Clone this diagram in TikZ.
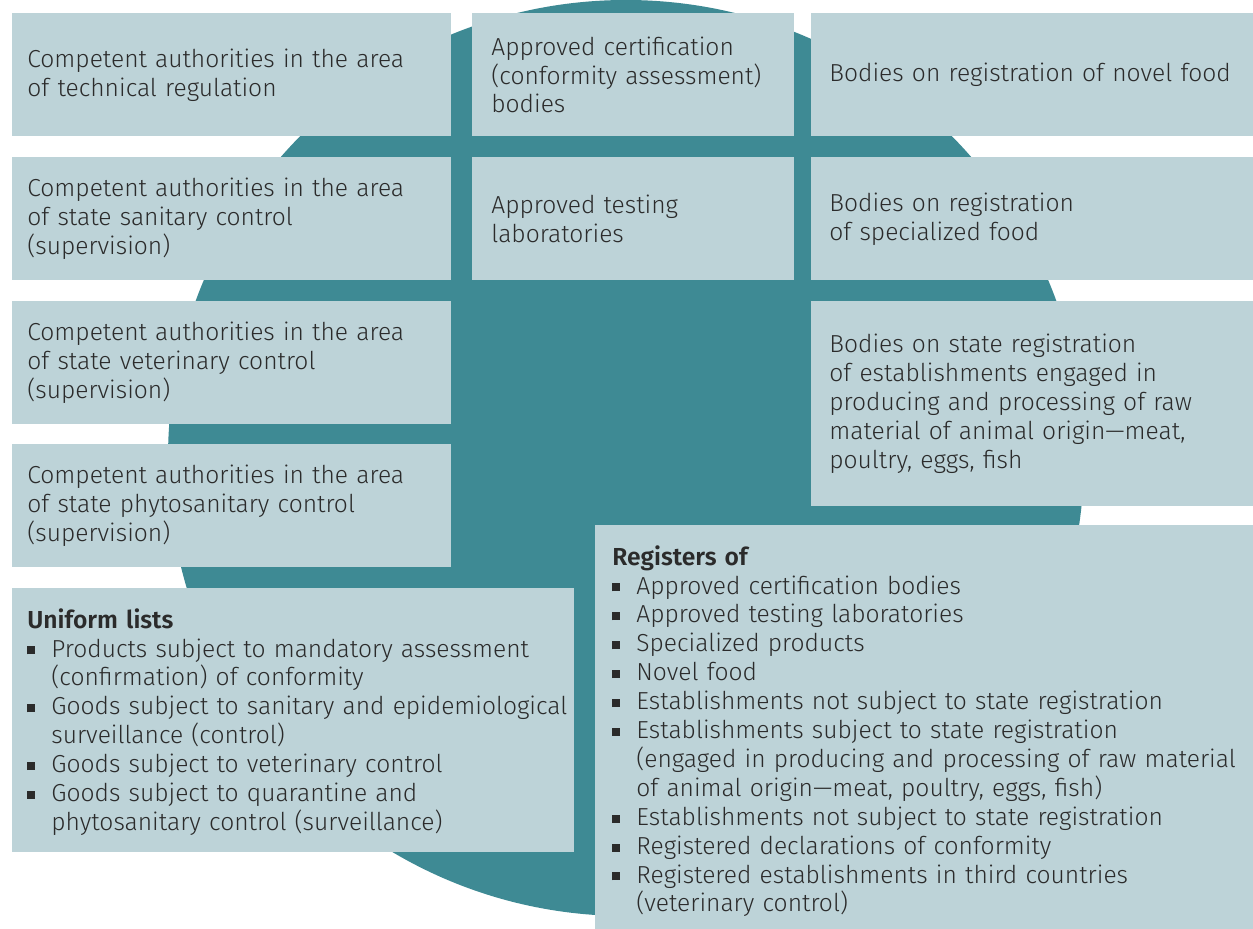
\documentclass[tikz,border=0pt]{standalone}
\usepackage{fontspec}
\setmainfont{Fira Sans}[UprightFont=* Light,BoldFont=* SemiBold]
\usepackage{xcolor}

\definecolor{discteal}{HTML}{3E8A94}
\definecolor{panelblue}{HTML}{BDD3D8}
\definecolor{inkgray}{HTML}{2B2B2B}

\setlength{\parindent}{0pt}
\newcommand{\panelfont}{\fontsize{12.3pt}{14.45pt}\selectfont}
\newcommand{\sqbul}{\makebox[12pt][l]{\rule[1.3pt]{4pt}{4pt}}}
\newcommand{\litem}[1]{\hangindent=12pt\hangafter=1\noindent\sqbul#1\par}

\begin{document}
\begin{tikzpicture}[x=0.5pt, y=-0.5pt,
                    panel/.style={fill=panelblue, anchor=north west, inner ysep=0pt,
                                  align=left, font=\panelfont, text=inkgray},
                    listtext/.style={anchor=north west, inner ysep=10pt,
                                     align=left, font=\panelfont, text=inkgray}]
                    \useasboundingbox[fill=white] (0,0) rectangle (1253,929);
                    % the disc behind the panels
                    \fill[discteal] (626,458) circle (229pt);
                    % first column
                    \node[panel, inner xsep=7.5pt, text width=204.5pt, minimum height=61.5pt] (techreg) at (12,13)
                        {Competent authorities in the area\\of technical regulation};
                    \node[panel, inner xsep=7.5pt, text width=204.5pt, minimum height=61.5pt] (sanitary) at (12,157)
                        {Competent authorities in the area\\of state sanitary control\\(supervision)};
                    \node[panel, inner xsep=7.5pt, text width=204.5pt, minimum height=61.5pt] (veterinary) at (12,301)
                        {Competent authorities in the area\\of state veterinary control\\(supervision)};
                    \node[panel, inner xsep=7.5pt, text width=204.5pt, minimum height=61.5pt] (phyto) at (12,444)
                        {Competent authorities in the area\\of state phytosanitary control\\(supervision)};
                    % middle column
                    \node[panel, inner xsep=9.5pt, text width=142pt, minimum height=61.5pt] (certbodies) at (472,13)
                        {Approved certification\\(conformity assessment)\\bodies};
                    \node[panel, inner xsep=9.5pt, text width=142pt, minimum height=61.5pt] (testlabs) at (472,157)
                        {Approved testing\\laboratories};
                    % right column
                    \node[panel, inner xsep=9pt, text width=203pt, minimum height=61.5pt] (novelfood) at (811,13)
                        {Bodies on registration of novel food};
                    \node[panel, inner xsep=9pt, text width=203pt, minimum height=61.5pt] (specfood) at (811,157)
                        {Bodies on registration\\of specialized food};
                    \node[panel, inner xsep=9pt, text width=203pt, minimum height=102.5pt] (stateregbodies) at (811,301)
                        {Bodies on state registration\\of establishments engaged in\\producing and processing of raw\\material of animal origin---meat,\\poultry, eggs, fish};
                    % lists
                    \fill[panelblue] (12,588) rectangle (574,852);
                    \node[listtext, inner xsep=7.5pt, text width=276pt] (uniform) at (12,588)
                        {\textbf{Uniform lists}\par
                         \litem{Products subject to mandatory assessment\newline(confirmation) of conformity}
                         \litem{Goods subject to sanitary and epidemiological\newline surveillance (control)}
                         \litem{Goods subject to veterinary control}
                         \litem{Goods subject to quarantine and\newline phytosanitary control (surveillance)}};
                    \fill[panelblue] (595,525) rectangle (1253,929);
                    \node[listtext, inner xsep=8.5pt, text width=322pt] (registers) at (595,525)
                        {\textbf{Registers of}\par
                         \litem{Approved certification bodies}
                         \litem{Approved testing laboratories}
                         \litem{Specialized products}
                         \litem{Novel food}
                         \litem{Establishments not subject to state registration}
                         \litem{Establishments subject to state registration\newline(engaged in producing and processing of raw material\newline of animal origin---meat, poultry, eggs, fish)}
                         \litem{Establishments not subject to state registration}
                         \litem{Registered declarations of conformity}
                         \litem{Registered establishments in third countries\newline(veterinary control)}};
                \end{tikzpicture}
\end{document}
